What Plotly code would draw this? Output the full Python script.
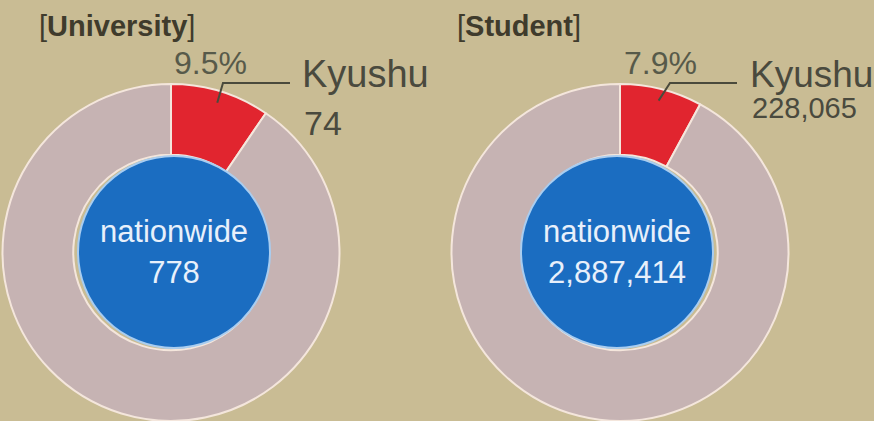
import math
import plotly.graph_objects as go

# ---- data ----
panel_titles = ["University", "Student"]
nationwide = [778, 2887414]
kyushu = [74, 228065]
region_label = "Kyushu"
center_label = "nationwide"

W, H = 874, 421
BG = "#c9bc94"
RING = "#c6b3b3"
RED = "#e1252f"
BLUE = "#1b6dc1"
EDGE = "#f4e6dc"
FONT = "Liberation Sans, Arial, sans-serif"

def fx(x):
    return x / W

def fy(y):
    return 1 - y / H

def fmt(v):
    return f"{v:,}"

# layout geometry (pixels)
outer_cx = [171, 620]
outer_cy = 253
outer_r = 169
inner_cx = [174, 617]
inner_cy = 252
inner_r = 96

fig = go.Figure()
shapes = []
annotations = []

title_x = [37, 455]
pct_x = [210, 660]
lab_x = [300, 748]
lab_size = [38, 37]
num_y = [123, 108]
num_size = [34, 29]
elbow_x = [223, 670]
line_end = [290, 737]

for i in range(2):
    rest = nationwide[i] - kyushu[i]
    cx, r = outer_cx[i], outer_r
    fig.add_trace(go.Pie(
        values=[kyushu[i], rest],
        labels=[region_label, "other"],
        sort=False, direction="clockwise", rotation=0,
        hole=0.58,
        marker=dict(colors=[RED, RING], line=dict(color=EDGE, width=2)),
        textinfo="none", hoverinfo="skip", showlegend=False,
        domain=dict(x=[max(0, fx(cx - r)), fx(cx + r)], y=[max(0, fy(outer_cy + r)), fy(outer_cy - r)]),
    ))
    icx, ir = inner_cx[i], inner_r
    fig.add_trace(go.Pie(
        values=[nationwide[i]],
        labels=[center_label],
        text=[f"{center_label}<br>{fmt(nationwide[i])}"],
        textinfo="text", textposition="inside", insidetextorientation="horizontal",
        insidetextfont=dict(family=FONT, size=31, color="#e8f0fb"),
        marker=dict(colors=[BLUE], line=dict(color="#a9cdf0", width=2)),
        hoverinfo="skip", showlegend=False, sort=False,
        domain=dict(x=[fx(icx - ir), fx(icx + ir)], y=[fy(inner_cy + ir), fy(inner_cy - ir)]),
    ))

    frac = kyushu[i] / nationwide[i]
    # leader line from inside the red slice
    ang = math.radians(frac * 360 * 0.5)
    sx = cx + 0.93 * r * math.sin(ang)
    sy = outer_cy - 0.93 * r * math.cos(ang)
    ey = 83
    shapes.append(dict(
        type="path",
        path=f"M {fx(sx)} {fy(sy)} L {fx(elbow_x[i])} {fy(ey)} L {fx(line_end[i])} {fy(ey)}",
        xref="paper", yref="paper", line=dict(color="#4a4a3c", width=2),
    ))

    annotations.append(dict(
        text=f"[<b>{panel_titles[i]}</b>]", x=fx(title_x[i]), y=fy(26),
        xanchor="left", yanchor="middle", showarrow=False,
        font=dict(family=FONT, size=29, color="#3f3b2c"),
    ))
    annotations.append(dict(
        text=f"{frac * 100:.1f}%", x=fx(pct_x[i]), y=fy(63),
        xanchor="center", yanchor="middle", showarrow=False,
        font=dict(family=FONT, size=32, color="#575a4a"),
    ))
    annotations.append(dict(
        text=region_label, x=fx(lab_x[i]), y=fy(74),
        xanchor="left", yanchor="middle", showarrow=False,
        font=dict(family=FONT, size=lab_size[i], color="#4a4a3e"),
    ))
    annotations.append(dict(
        text=fmt(kyushu[i]), x=fx(lab_x[i] + 2), y=fy(num_y[i]),
        xanchor="left", yanchor="middle", showarrow=False,
        font=dict(family=FONT, size=num_size[i], color="#4a4a3e"),
    ))

fig.update_layout(
    width=W, height=H,
    margin=dict(l=0, r=0, t=0, b=0),
    paper_bgcolor=BG, plot_bgcolor=BG,
    shapes=shapes, annotations=annotations,
    showlegend=False,
)

fig.write_html(
    "out.html",
    config={"displayModeBar": False},
    post_script="document.body.style.margin='0';document.body.style.padding='0';document.body.style.overflow='hidden';document.body.style.background='" + BG + "';",
)
